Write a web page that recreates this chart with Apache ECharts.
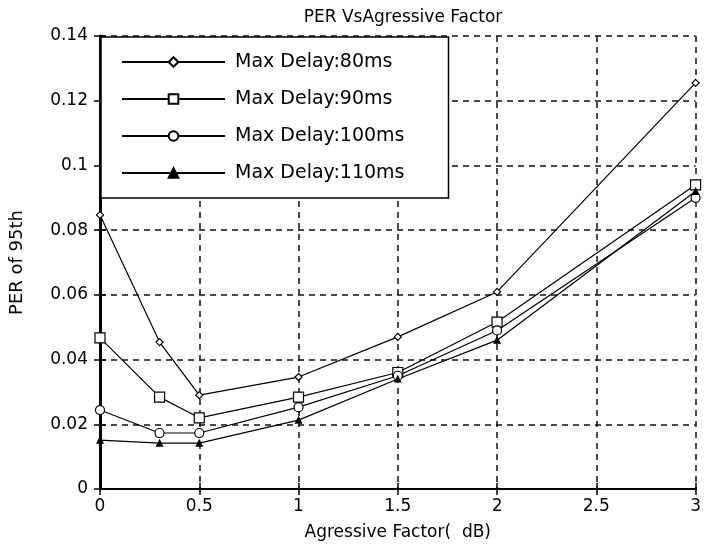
<!DOCTYPE html>
<html>
<head>
<meta charset="utf-8">
<script src="https://cdn.jsdelivr.net/npm/echarts@6/dist/echarts.min.js"></script>
<style>
  html, body { margin: 0; padding: 0; background: #fff; }
  #chart { width: 704px; height: 552px; }
</style>
</head>
<body>
<div id="chart"></div>
<script>
// 横轴：Agressive Factor (dB)
const factors = [0, 0.3, 0.5, 1, 1.5, 2, 3]
const names = ['Max Delay:80ms', 'Max Delay:90ms', 'Max Delay:100ms', 'Max Delay:110ms']
// PER of 95th
const delay80 = [0.0847, 0.0454, 0.029, 0.0346, 0.047, 0.0609, 0.1255]
const delay90 = [0.0467, 0.0284, 0.022, 0.0284, 0.036, 0.0516, 0.094]
const delay100 = [0.0244, 0.0173, 0.0173, 0.0253, 0.035, 0.049, 0.090]
const delay110 = [0.0151, 0.0142, 0.0142, 0.0213, 0.034, 0.046, 0.092]
const xTicks = [0, 0.5, 1, 1.5, 2, 2.5, 3]
const yTicks = [0, 0.02, 0.04, 0.06, 0.08, 0.1, 0.12, 0.14]

const FONT = 'DejaVu Sans'
const chart = echarts.init(document.getElementById('chart'))

const markers = [
  { symbol: 'diamond', size: 7, fill: '#fff' },
  { symbol: 'rect', size: 10, fill: '#fff' },
  { symbol: 'circle', size: 9, fill: '#fff' },
  { symbol: 'triangle', size: 6, fill: '#000' }
]

const makeSeries = (name, values, idx) => ({
  name: name,
  type: 'line',
  xAxisIndex: 0,
  yAxisIndex: 0,
  data: values.map((v, i) => [factors[i], v]),
  symbol: markers[idx].symbol,
  symbolSize: markers[idx].size,
  showAllSymbol: true,
  lineStyle: { color: '#000', width: 1.2 },
  itemStyle: { color: markers[idx].fill, borderColor: '#000', borderWidth: 1.2 },
  emphasis: { disabled: true },
  animation: false,
  z: 3
})

const frameAxis = {
  min: 0,
  axisLine: { show: true, lineStyle: { color: '#000', width: 2 } },
  axisTick: { show: true, inside: true, length: 6, lineStyle: { color: '#000', width: 1.5 } },
  axisLabel: { show: false },
  splitLine: { show: false }
}

const option = {
  backgroundColor: '#fff',
  title: {
    text: 'PER VsAgressive Factor',
    left: 398,
    textAlign: 'center',
    top: 4,
    textStyle: { fontFamily: FONT, fontSize: 17, fontWeight: 'normal', color: '#000' }
  },
  grid: { left: 100, right: 7, top: 36, bottom: 63 },
  legend: {
    orient: 'vertical',
    left: 101,
    top: 37,
    data: names,
    itemWidth: 103,
    itemHeight: 12,
    itemGap: 17,
    padding: [15, 44, 15, 20],
    backgroundColor: '#fff',
    borderColor: '#000',
    borderWidth: 1.5,
    borderRadius: 0,
    selectedMode: false,
    textStyle: { fontFamily: FONT, fontSize: 19, color: '#000', lineHeight: 20, padding: [0, 0, 0, 5] },
    z: 5
  },
  xAxis: [
    {
      type: 'value',
      min: 0,
      max: 3,
      interval: 0.5,
      name: 'Agressive Factor(  dB)',
      nameLocation: 'middle',
      nameGap: 35,
      nameTextStyle: { fontFamily: FONT, fontSize: 17, color: '#000' },
      axisLine: { show: true, lineStyle: { color: '#000', width: 2 } },
      axisTick: { show: true, inside: true, length: 6, lineStyle: { color: '#000', width: 1.5 } },
      axisLabel: {
        fontFamily: FONT, fontSize: 17, color: '#000', margin: 9,
        formatter: v => xTicks.includes(v) ? String(v) : ''
      },
      splitLine: { show: true, lineStyle: { color: '#111', width: 1.5, type: [6, 5] } }
    },
    Object.assign({ type: 'value', position: 'top', max: 3, interval: 0.5 }, frameAxis)
  ],
  yAxis: [
    {
      type: 'value',
      min: 0,
      max: 0.14,
      interval: 0.02,
      name: 'PER of 95th',
      nameLocation: 'middle',
      nameGap: 74,
      nameTextStyle: { fontFamily: FONT, fontSize: 18, color: '#000' },
      axisLine: { show: true, lineStyle: { color: '#000', width: 3 } },
      axisTick: { show: true, inside: true, length: 6, lineStyle: { color: '#000', width: 1.5 } },
      axisLabel: {
        fontFamily: FONT, fontSize: 17, color: '#000', margin: 12,
        formatter: v => {
          const t = yTicks.find(k => Math.abs(k - v) < 1e-9)
          return t === undefined ? '' : String(t)
        }
      },
      splitLine: { show: true, lineStyle: { color: '#111', width: 1.5, type: [6, 5] } }
    },
    Object.assign({ type: 'value', position: 'right', max: 0.14, interval: 0.02 }, frameAxis)
  ],
  series: [
    makeSeries(names[0], delay80, 0),
    makeSeries(names[1], delay90, 1),
    makeSeries(names[2], delay100, 2),
    makeSeries(names[3], delay110, 3)
  ]
}

chart.setOption(option)
</script>
</body>
</html>
